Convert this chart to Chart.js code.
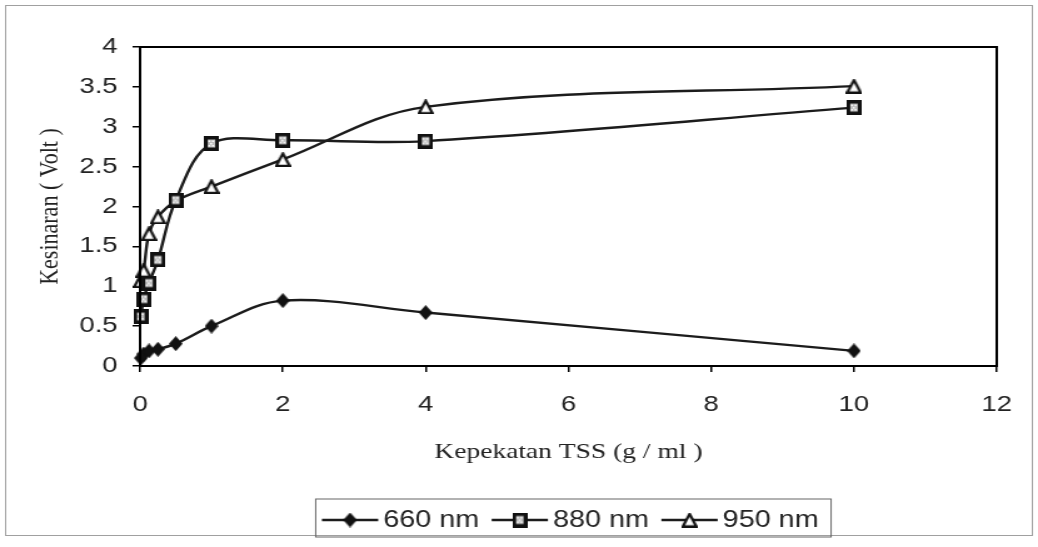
<!DOCTYPE html>
<html>
<head>
<meta charset="utf-8">
<title>Kesinaran vs Kepekatan TSS</title>
<script src="https://cdn.jsdelivr.net/npm/chart.js@4.4.0/dist/chart.umd.min.js"></script>
<style>
  html, body { margin: 0; padding: 0; background: #fff; overflow: hidden; }
  /* the scanned chart is stretched sideways, so draw it narrow and widen it */
  #wrap { width: 830px; height: 547px; transform: scaleX(1.2506); transform-origin: 0 0; }
</style>
</head>
<body>
<div id="wrap"><canvas id="tssChart"></canvas></div>
<script>
/****************Data****************/
const concentrations = [0.01, 0.05, 0.125, 0.25, 0.5, 1, 2, 4, 10];
const volt660 = [0.1, 0.15, 0.19, 0.21, 0.28, 0.5, 0.82, 0.67, 0.19];
const volt880 = [0.62, 0.84, 1.04, 1.33, 2.08, 2.79, 2.83, 2.82, 3.24];
const volt950 = [1.07, 1.2, 1.66, 1.87, 2.07, 2.25, 2.59, 3.25, 3.51];
const seriesNames = ["660 nm", "880 nm", "950 nm"];
const xTicks = [0, 2, 4, 6, 8, 10, 12];
const yTicks = [0, 0.5, 1, 1.5, 2, 2.5, 3, 3.5, 4];

const sansFont = '"Liberation Sans", Arial, sans-serif';
const serifFont = '"Liberation Serif", "Times New Roman", serif';
const ink = "#1c1c1c";

/****************Markers****************/
// markers are drawn narrower than tall because the whole canvas gets widened
function makeMarker(w, h, draw) {
  const c = document.createElement("canvas");
  c.width = w;
  c.height = h;
  draw(c.getContext("2d"), w, h);
  return c;
}

const diamondMark = makeMarker(11, 15, (ctx, w, h) => {
  ctx.fillStyle = "#111";
  ctx.beginPath();
  ctx.moveTo(w / 2, 0);
  ctx.lineTo(w, h / 2);
  ctx.lineTo(w / 2, h);
  ctx.lineTo(0, h / 2);
  ctx.closePath();
  ctx.fill();
});

const squareMark = makeMarker(12, 15, (ctx, w, h) => {
  ctx.fillStyle = "#111";
  ctx.fillRect(0, 0, w, h);
  ctx.fillStyle = "#bdbdbd";
  ctx.fillRect(3, 3.5, w - 6, h - 7);
  ctx.fillStyle = "#fff";
  [[3.5, 4.5], [6.5, 4.5], [5, 7], [3.5, 9], [6.5, 9]].forEach(([x, y]) => ctx.fillRect(x, y, 1.5, 1.5));
});

const triangleMark = makeMarker(13, 15, (ctx, w, h) => {
  ctx.fillStyle = "#fff";
  ctx.strokeStyle = "#111";
  ctx.lineWidth = 2.2;
  ctx.beginPath();
  ctx.moveTo(w / 2, 1.5);
  ctx.lineTo(w - 1.2, h - 1.2);
  ctx.lineTo(1.2, h - 1.2);
  ctx.closePath();
  ctx.fill();
  ctx.stroke();
});

/****************Frame + Legend****************/
const frameAndLegend = {
  id: "frameAndLegend",
  afterDraw(chart) {
    const { ctx, chartArea } = chart;
    ctx.save();

    // outer border of the figure
    ctx.strokeStyle = "#a0a0a0";
    ctx.lineWidth = 1;
    ctx.strokeRect(4.5, 5.5, 821, 530);

    // plot frame
    ctx.strokeStyle = "#000";
    ctx.lineWidth = 2;
    ctx.strokeRect(chartArea.left, chartArea.top, chartArea.right - chartArea.left, chartArea.bottom - chartArea.top);

    // legend box
    ctx.font = "23px " + sansFont;
    const lineLen = 45, gap = 4, itemGap = 10, padL = 5, padR = 10;
    const widths = chart.data.datasets.map((ds) => ctx.measureText(ds.label).width);
    const total = padL + padR + itemGap * (widths.length - 1) +
      widths.reduce((s, w) => s + lineLen + gap + w, 0);
    let x = (chartArea.left + chartArea.right) / 2 - total / 2 + 4;
    const top = 499, bottom = 537, mid = 520;
    ctx.strokeStyle = "#666";
    ctx.lineWidth = 1;
    ctx.strokeRect(x, top, total, bottom - top);
    x += padL;

    chart.data.datasets.forEach((ds, i) => {
      ctx.strokeStyle = ds.borderColor;
      ctx.lineWidth = ds.borderWidth;
      ctx.beginPath();
      ctx.moveTo(x, mid);
      ctx.lineTo(x + lineLen, mid);
      ctx.stroke();
      const img = ds.pointStyle;
      ctx.drawImage(img, x + lineLen / 2 - img.width / 2, mid - img.height / 2);
      ctx.fillStyle = "#222";
      ctx.textBaseline = "middle";
      ctx.textAlign = "left";
      ctx.fillText(ds.label, x + lineLen + gap, mid + 1);
      x += lineLen + gap + widths[i] + itemGap;
    });
    ctx.restore();
  },
};

/****************Chart****************/
function toPoints(values) {
  return concentrations.map((c, i) => ({ x: c, y: values[i] }));
}

function series(label, values, marker) {
  return {
    label: label,
    data: toPoints(values),
    showLine: true,
    tension: 0.35,
    borderColor: ink,
    borderWidth: 2.4,
    pointStyle: marker,
    pointRadius: 7,
    clip: false,
  };
}

const tickFont = { family: sansFont, size: 22 };
const titleFont = { family: serifFont, size: 22 };

new Chart(document.getElementById("tssChart"), {
  type: "scatter",
  data: {
    datasets: [
      series(seriesNames[0], volt660, diamondMark),
      series(seriesNames[1], volt880, squareMark),
      series(seriesNames[2], volt950, triangleMark),
    ],
  },
  plugins: [frameAndLegend],
  options: {
    responsive: true,
    maintainAspectRatio: false,
    animation: false,
    layout: { padding: { left: 27, right: 33, top: 47, bottom: 82 } },
    plugins: {
      legend: { display: false },
      tooltip: { enabled: false },
    },
    scales: {
      x: {
        type: "linear",
        min: 0,
        max: 12,
        afterBuildTicks: (scale) => {
          scale.ticks = xTicks.map((v) => ({ value: v }));
        },
        afterFit: (scale) => {
          scale.height = 99;
        },
        grid: { drawOnChartArea: false, tickLength: 6, color: "#000", lineWidth: 1.5 },
        border: { color: "#000", width: 2 },
        ticks: { padding: 20, font: tickFont, color: "#222", maxRotation: 0, callback: (v) => String(v) },
        title: { display: true, text: "Kepekatan TSS (g / ml )", font: titleFont, color: "#222", padding: 0 },
      },
      y: {
        min: 0,
        max: 4,
        afterBuildTicks: (scale) => {
          scale.ticks = yTicks.map((v) => ({ value: v }));
        },
        afterFit: (scale) => {
          scale.width = 85;
        },
        grid: { drawOnChartArea: false, tickLength: 6, color: "#000", lineWidth: 1.5 },
        border: { color: "#000", width: 2 },
        ticks: { padding: 12, font: tickFont, color: "#222", callback: (v) => String(v) },
        title: { display: true, text: "Kesinaran ( Volt )", font: titleFont, color: "#222", padding: 0 },
      },
    },
  },
});
</script>
</body>
</html>
